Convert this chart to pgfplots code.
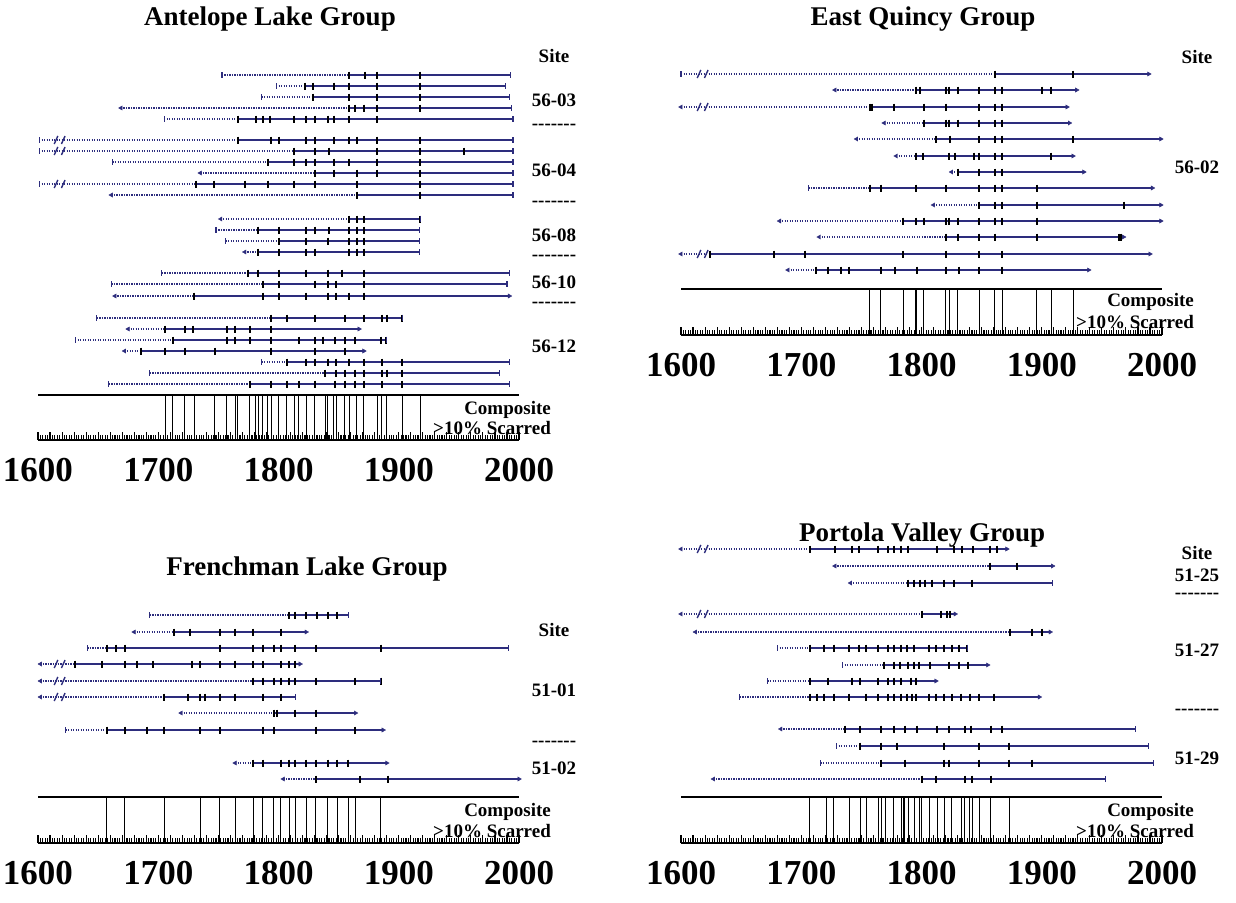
\documentclass[border=0pt]{standalone}
\usepackage{pgfplots}
\pgfplotsset{compat=1.18}
\usepackage{fontspec}
\setmainfont{Liberation Serif}
\definecolor{navy}{RGB}{45,45,125}
\pgfdeclareplotmark{slash}{\pgfpathmoveto{\pgfqpoint{-0.45\pgfplotmarksize}{-\pgfplotmarksize}}\pgfpathlineto{\pgfqpoint{0.45\pgfplotmarksize}{\pgfplotmarksize}}\pgfusepathqstroke}
\pgfplotsset{
 dotl/.style={navy, line width=1.4pt, dash pattern=on 1.2pt off 1.3pt},
 soll/.style={navy, line width=1.7pt},
 scar/.style={only marks, mark=|, mark size=3.5pt, mark options={line width=2pt, black}},
 pith/.style={only marks, mark=|, mark size=3pt, mark options={line width=1.1pt, navy}},
 bark/.style={pith},
 inner/.style={only marks, mark=triangle*, mark size=2.4pt, mark options={rotate=90, navy, fill=navy}},
 outer/.style={only marks, mark=triangle*, mark size=2.4pt, mark options={rotate=-90, navy, fill=navy}},
 brk/.style={only marks, mark=slash, mark size=4pt, mark options={line width=1.4pt, navy}},
 comp/.style={ycomb, black, line width=1pt},
 fhs/.style={scale only axis, width=481pt, xmin=1600, xmax=2000, ymin=0,
   axis x line=bottom, axis y line=none, axis line style={-, line width=1.5pt, black},
   xtick={1600,1610,...,2000},
   xticklabels={1600,,,,,,,,,,1700,,,,,,,,,,1800,,,,,,,,,,1900,,,,,,,,,,2000},
   minor x tick num=4, xtick align=inside, major tick length=8pt, minor tick length=5pt,
   every tick/.style={black, line width=1.1pt},
   xticklabel style={font=\fontsize{35}{35}\selectfont\bfseries, yshift=-15pt},
   clip=false, anchor=south west}
}
\newcommand{\tr}[7]{%
 \pgfmathsetmacro{\yy}{\B-#1}%
 \edef\tmp{\noexpand\addplot[dotl] coordinates {(#2,\yy) (#3,\yy)};\noexpand\addplot[soll] coordinates {(#3,\yy) (#4,\yy)};}\tmp
 \def\cc{}\foreach \s in {#5}{\xdef\cc{\cc(\s,\yy)}}%
 \edef\tmp{\noexpand\addplot[scar] coordinates {\cc};\noexpand\addplot[#6] coordinates {(#2,\yy)};\noexpand\addplot[#7] coordinates {(#4,\yy)};}\tmp
}
\newcommand{\br}[1]{\pgfmathsetmacro{\yy}{\B-#1}\edef\tmp{\noexpand\addplot[brk] coordinates {(1615,\yy) (1621,\yy)};}\tmp}
\newcommand{\comp}[2]{\def\cc{}\foreach \s in {#2}{\xdef\cc{\cc(\s,#1)}}\edef\tmp{\noexpand\addplot[black, line width=1.8pt] coordinates {(1600,#1) (2000,#1)};\noexpand\addplot[comp] coordinates {\cc};}\tmp}
\newcommand{\sep}{-{}-{}-{}-{}-{}-{}-}
\tikzset{lab/.style={font=\fontsize{19}{19}\selectfont\bfseries, inner sep=0pt},
 sepl/.style={lab, text height=3pt, text depth=0pt},
 ttl/.style={font=\fontsize{27}{27}\selectfont\bfseries, inner sep=0pt}}
\begin{document}
\begin{tikzpicture}
\path[use as bounding box] (0pt,0pt) rectangle (1236pt,-902pt);
% ---------------- Antelope Lake
\def\B{440}
\begin{axis}[fhs, at={(38pt,-440pt)}, height=380pt, ymax=380]
\comp{45}{1706,1712,1722,1730,1747,1757,1764,1766,1776,1781,1783,1787,1791,1794,1800,1807,1813,1817,1823,1830,1839,1841,1846,1848,1855,1859,1865,1871,1882,1886,1890,1903,1918}
\tr{75}{1753}{1859}{1993}{1859,1872,1882,1918}{pith}{bark}
\tr{86}{1798}{1822}{1989}{1822,1829,1846,1859,1882,1918}{pith}{bark}
\tr{97}{1786}{1829}{1992}{1829,1859,1882,1918}{pith}{bark}
\tr{108}{1669}{1859}{1994}{1859,1864,1871,1882,1918}{inner}{bark}
\tr{119}{1705}{1766}{1995}{1766,1781,1787,1793,1813,1823,1830,1841,1846,1859,1882}{pith}{bark}
\tr{140}{1601}{1766}{1995}{1766,1794,1800,1823,1830,1846,1859,1865,1882,1918}{pith}{bark}\br{140}
\tr{151}{1601}{1813}{1995}{1813,1830,1842,1882,1918,1954}{pith}{bark}\br{151}
\tr{162}{1662}{1791}{1995}{1791,1813,1823,1830,1846,1859,1882,1918}{pith}{bark}
\tr{173}{1735}{1830}{1995}{1830,1846,1865,1882,1918}{inner}{bark}
\tr{184}{1601}{1731}{1995}{1731,1746,1772,1791,1813,1830,1865,1918}{pith}{bark}\br{184}
\tr{195}{1661}{1865}{1995}{1865,1918}{inner}{bark}
\tr{219}{1752}{1859}{1918}{1859,1865,1871,1918}{inner}{bark}
\tr{230}{1748}{1783}{1917}{1783,1800,1823,1830,1842,1859,1865,1871}{pith}{bark}
\tr{241}{1756}{1800}{1917}{1800,1823,1841,1859,1865,1871}{pith}{bark}
\tr{252}{1772}{1783}{1917}{1783,1800,1823,1830,1859,1865,1871}{inner}{bark}
\tr{273}{1703}{1775}{1992}{1775,1783,1800,1823,1841,1853,1871}{pith}{bark}
\tr{284}{1661}{1787}{1990}{1787,1800,1830,1841,1848,1871}{pith}{bark}
\tr{296}{1664}{1730}{1992}{1730,1787,1800,1823,1841,1848,1859,1871}{inner}{outer}
\tr{318}{1649}{1794}{1903}{1794,1807,1830,1855,1871,1886,1890,1903}{pith}{bark}
\tr{329}{1675}{1706}{1867}{1706,1722,1729,1757,1764,1776,1794}{inner}{outer}
\tr{340}{1631}{1712}{1890}{1712,1757,1764,1776,1794,1817,1830,1837,1847,1855,1864,1885,1889}{pith}{bark}
\tr{351}{1672}{1686}{1871}{1686,1706,1722,1747,1794,1830,1855}{inner}{outer}
\tr{362}{1786}{1807}{1992}{1807,1823,1830,1841,1848,1859,1871,1886,1903}{pith}{bark}
\tr{373}{1693}{1839}{1984}{1839,1848,1855,1864,1871,1886,1890,1903}{pith}{bark}
\tr{384}{1659}{1776}{1992}{1776,1794,1807,1817,1830,1847,1855,1864,1871,1886,1903}{pith}{bark}
\end{axis}
% ---------------- East Quincy
\def\B{335}
\begin{axis}[fhs, at={(681pt,-335pt)}, height=275pt, ymax=275]
\comp{46}{1757,1766,1785,1795,1796,1802,1820,1823,1830,1848,1861,1867,1896,1908,1926}
\tr{74}{1600}{1861}{1989}{1861,1926}{pith}{outer}\br{74}
\tr{90}{1728}{1795}{1929}{1795,1799,1820,1823,1830,1848,1861,1867,1900,1908}{inner}{outer}
\tr{107}{1600}{1757}{1921}{1757,1759,1777,1802,1820,1848,1861,1867}{inner}{outer}\br{107}
\tr{123}{1769}{1802}{1923}{1802,1820,1823,1830,1848,1861,1867}{inner}{outer}
\tr{139}{1746}{1812}{1999}{1812,1824,1848,1861,1867,1926}{inner}{outer}
\tr{156}{1779}{1795}{1926}{1795,1801,1823,1828,1844,1848,1861,1867,1908}{inner}{outer}
\tr{172}{1825}{1830}{1935}{1830,1848,1861,1867}{inner}{outer}
\tr{188}{1706}{1757}{1992}{1757,1766,1795,1820,1848,1861,1867,1896}{pith}{outer}
\tr{205}{1810}{1848}{1999}{1848,1861,1867,1896,1968}{inner}{outer}
\tr{221}{1682}{1785}{1999}{1785,1795,1802,1820,1823,1830,1848,1861,1867,1896}{inner}{outer}
\tr{237}{1715}{1820}{1968}{1820,1830,1848,1861,1896,1964,1966}{inner}{outer}
\tr{254}{1600}{1624}{1990}{1624,1677,1703,1785,1820,1848,1867}{inner}{outer}\br{254}
\tr{270}{1689}{1712}{1939}{1712,1722,1733,1740,1766,1778,1796,1820,1831,1848,1867}{inner}{outer}
\end{axis}
% ---------------- Frenchman Lake
\def\B{843}
\begin{axis}[fhs, at={(38pt,-843pt)}, height=243pt, ymax=243]
\comp{46}{1657,1672,1705,1735,1751,1764,1779,1787,1796,1802,1809,1814,1823,1831,1841,1849,1858,1864,1885}
\tr{615}{1693}{1809}{1858}{1809,1814,1823,1832,1841,1849}{pith}{bark}
\tr{632}{1680}{1713}{1823}{1713,1726,1751,1764,1779,1802}{inner}{outer}
\tr{648}{1641}{1657}{1991}{1657,1665,1672,1751,1779,1787,1796,1802,1814,1831,1885}{pith}{bark}
\tr{664}{1602}{1631}{1818}{1631,1653,1672,1682,1696,1728,1735,1751,1764,1779,1787,1802,1809,1814}{inner}{outer}\br{664}
\tr{681}{1602}{1779}{1885}{1779,1787,1796,1802,1809,1814,1831,1864,1885}{inner}{bark}\br{681}
\tr{697}{1602}{1705}{1814}{1705,1725,1735,1739,1751,1764,1787,1802}{inner}{bark}\br{697}
\tr{713}{1719}{1796}{1864}{1796,1799,1814,1831}{inner}{outer}
\tr{730}{1623}{1657}{1887}{1657,1672,1691,1705,1735,1751,1787,1796,1831,1864}{pith}{outer}
\tr{763}{1764}{1779}{1890}{1779,1787,1802,1809,1814,1823,1831,1841,1849,1858}{inner}{outer}
\tr{779}{1804}{1831}{2000}{1831,1868,1891}{inner}{outer}
\end{axis}
% ---------------- Portola Valley
\def\B{843}
\begin{axis}[fhs, at={(681pt,-843pt)}, height=303pt, ymax=303]
\comp{46}{1707,1721,1727,1740,1749,1754,1764,1767,1770,1777,1783,1785,1786,1789,1794,1798,1800,1807,1813,1819,1825,1833,1836,1840,1842,1848,1857,1873}
\tr{549}{1600}{1707}{1871}{1707,1728,1742,1748,1764,1772,1777,1783,1789,1813,1827,1834,1843,1857,1863}{inner}{outer}\br{549}
\tr{566}{1728}{1857}{1909}{1857,1879}{inner}{outer}
\tr{583}{1741}{1789}{1909}{1789,1794,1799,1803,1809,1819,1827,1842}{inner}{bark}
\tr{614}{1600}{1800}{1828}{1800,1816,1821,1824}{inner}{outer}\br{614}
\tr{632}{1612}{1874}{1907}{1874,1892,1900}{inner}{outer}
\tr{648}{1680}{1707}{1838}{1707,1719,1727,1740,1748,1754,1764,1772,1777,1783,1788,1794,1806,1812,1819,1825,1831,1838}{pith}{bark}
\tr{665}{1734}{1769}{1855}{1769,1777,1782,1789,1794,1798,1807,1823,1831,1839}{pith}{outer}
\tr{681}{1672}{1707}{1812}{1707,1722,1742,1749,1764,1772,1777,1783,1791,1795}{pith}{outer}
\tr{697}{1649}{1707}{1898}{1707,1713,1719,1727,1740,1754,1764,1772,1777,1783,1788,1792,1795,1806,1812,1819,1825,1833,1840,1848,1860}{pith}{outer}
\tr{729}{1683}{1736}{1978}{1736,1749,1766,1777,1786,1796,1813,1823,1836,1841,1858,1867}{inner}{bark}
\tr{746}{1729}{1749}{1989}{1749,1766,1780,1819,1848,1873}{pith}{bark}
\tr{763}{1716}{1766}{1993}{1766,1786,1819,1823,1848,1873,1892}{pith}{bark}
\tr{779}{1627}{1800}{1953}{1800,1812,1836,1842,1858}{inner}{bark}
\end{axis}
% ---------------- texts
\node[ttl] at (270pt,-19pt) {Antelope Lake Group};
\node[ttl] at (923pt,-19pt) {East Quincy Group};
\node[ttl] at (307pt,-569pt) {Frenchman Lake Group};
\node[ttl] at (922pt,-535pt) {Portola Valley Group};
% AL labels
\node[lab] at (554pt,-56pt) {Site};
\node[lab] at (554pt,-100pt) {56-03};
\node[sepl] at (554pt,-128pt) {\sep};
\node[lab] at (554pt,-170pt) {56-04};
\node[sepl] at (554pt,-205pt) {\sep};
\node[lab] at (554pt,-235pt) {56-08};
\node[sepl] at (554pt,-259pt) {\sep};
\node[lab] at (554pt,-282pt) {56-10};
\node[sepl] at (554pt,-306pt) {\sep};
\node[lab] at (554pt,-346pt) {56-12};
\node[lab, anchor=east] at (551pt,-410pt) {Composite};
\node[lab, anchor=east] at (551pt,-428pt) {>10\% Scarred};
% EQ labels
\node[lab] at (1197pt,-57pt) {Site};
\node[lab] at (1197pt,-167pt) {56-02};
\node[lab, anchor=east] at (1194pt,-302pt) {Composite};
\node[lab, anchor=east] at (1194pt,-322pt) {>10\% Scarred};
% FL labels
\node[lab] at (554pt,-630pt) {Site};
\node[lab] at (554pt,-690pt) {51-01};
\node[sepl] at (554pt,-745pt) {\sep};
\node[lab] at (554pt,-768pt) {51-02};
\node[lab, anchor=east] at (551pt,-812pt) {Composite};
\node[lab, anchor=east] at (551pt,-831pt) {>10\% Scarred};
% PV labels
\node[lab] at (1197pt,-553pt) {Site};
\node[lab] at (1197pt,-575pt) {51-25};
\node[sepl] at (1197pt,-597pt) {\sep};
\node[lab] at (1197pt,-650pt) {51-27};
\node[sepl] at (1197pt,-713pt) {\sep};
\node[lab] at (1197pt,-758pt) {51-29};
\node[lab, anchor=east] at (1194pt,-812pt) {Composite};
\node[lab, anchor=east] at (1194pt,-831pt) {>10\% Scarred};
\end{tikzpicture}
\end{document}
